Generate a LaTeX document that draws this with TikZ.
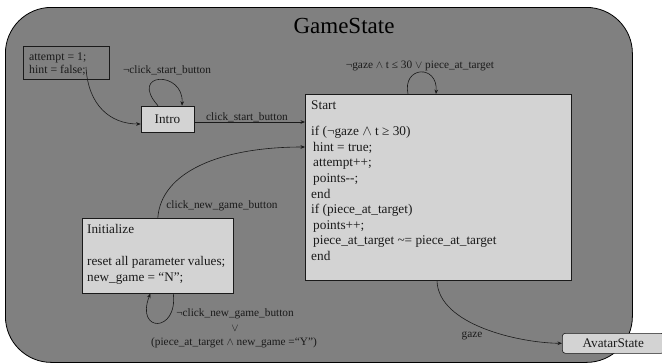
\documentclass[tikz,border=0pt]{standalone}
\usepackage{fontspec}
\setmainfont{Liberation Serif}
\usetikzlibrary{arrows.meta}
\definecolor{statebg}{HTML}{808080}
\definecolor{boxfill}{HTML}{D3D3D3}
\definecolor{ink}{HTML}{1A1A1A}
\begin{document}
\begin{tikzpicture}[x=1pt,y=-1pt,
  wire/.style={draw=ink, line width=0.6pt, -{Stealth[length=4.5pt,width=3.6pt]}},
  lbl/.style={font=\fontsize{11.3}{13}\selectfont, inner sep=0pt, text=ink},
  boxtext/.style={inner sep=0pt, align=left, anchor=north west, text=ink},
  statebox/.style={draw=ink, fill=boxfill, line width=0.6pt, inner sep=0pt,
                   font=\fontsize{13.2}{15}\selectfont, text=ink},
]
\useasboundingbox (0,0) rectangle (662,364);

% enclosing super-state
\node[draw=black, line width=0.8pt, fill=statebg, rounded corners=46pt,
      minimum width=627pt, minimum height=355pt, anchor=north west, inner sep=0pt]
      (game) at (5,7) {};
\node[font=\fontsize{23}{26}\selectfont, inner sep=0pt, text=black] (title) at (344,26) {GameState};

% initial assignments
\node[draw=ink, line width=0.6pt, minimum width=86pt, minimum height=33pt,
      anchor=north west, inner sep=0pt] (initvals) at (23,46) {};
\node[boxtext, font=\fontsize{11.8}{13}\selectfont] (initvalstext) at (29,53)
      {attempt = 1;\\hint = false;};
\coordinate (initout) at (86,67);

% Intro state
\node[statebox, minimum width=53pt, minimum height=26pt] (intro) at (167.5,119) {Intro};

% Start state
\node[statebox, minimum width=266pt, minimum height=186pt, anchor=north west] (start) at (305,94) {};
\node[boxtext, font=\fontsize{13.3}{15.6}\selectfont] (starttext) at (311,100)
  {Start\\[11pt]
   if (¬gaze $\wedge$ t ≥ 30)\\
   \hspace{2pt}hint = true;\\
   \hspace{2pt}attempt++;\\
   \hspace{2pt}points-{}-;\\
   end\\
   if (piece\_at\_target)\\
   \hspace{2pt}points++;\\
   \hspace{2pt}piece\_at\_target \textasciitilde= piece\_at\_target\\
   end};

% Initialize state
\node[statebox, minimum width=151pt, minimum height=75pt, anchor=north west] (initbox) at (82,218) {};
\node[boxtext, font=\fontsize{13.2}{16.3}\selectfont] (initboxtext) at (87,224)
  {Initialize\\[16pt]
   reset all parameter values;\\
   new\_game = “N”;};

% Avatar state (runs past the right edge)
\node[statebox, rounded corners=3pt, minimum width=102pt, minimum height=20pt,
      anchor=north west] (avatar) at (562,333) {AvatarState};

% transitions
\draw[wire] (initout) .. controls (88,105) and (110,124) .. ([yshift=-5pt]intro.west);

\draw[wire] ([xshift=-9.5pt]intro.north) .. controls (128,72) and (184,70) .. ([xshift=14.5pt]intro.north);
\node[lbl] (lblintroloop) at (167,70) {¬click\_start\_button};

\draw[wire] ([yshift=-3pt]intro.east) -- ([yshift=-3pt]intro.east -| start.west);
\node[lbl] (lblstart) at (247,117) {click\_start\_button};

\draw[wire] ([xshift=103pt]start.north west) .. controls (402,66) and (438,64) .. ([xshift=131pt]start.north west);
\node[lbl] (lblstartloop) at (420,66) {¬gaze $\wedge$ t ≤ 30 $\vee$ piece\_at\_target};

\draw[wire] (initbox.north) .. controls (161,172) and (220,147) .. ([yshift=-53pt]start.north west);
\node[lbl] (lblnewgame) at (222,206) {click\_new\_game\_button};

\draw[wire] ([xshift=15.5pt]initbox.south) .. controls (178,333) and (135,333) .. ([xshift=-7.5pt]initbox.south);
\node[lbl] (lblinitloopa) at (235,314) {¬click\_new\_game\_button};
\node[lbl] (lblinitloopb) at (235,328) {$\vee$};
\node[lbl] (lblinitloopc) at (234,343) {(piece\_at\_target $\wedge$ new\_game =“Y”)};

\draw[wire] ([xshift=132pt]start.south west) .. controls (438,325) and (520,343) .. (avatar.west);
\node[lbl] (lblgaze) at (472,336) {gaze};
\end{tikzpicture}
\end{document}
